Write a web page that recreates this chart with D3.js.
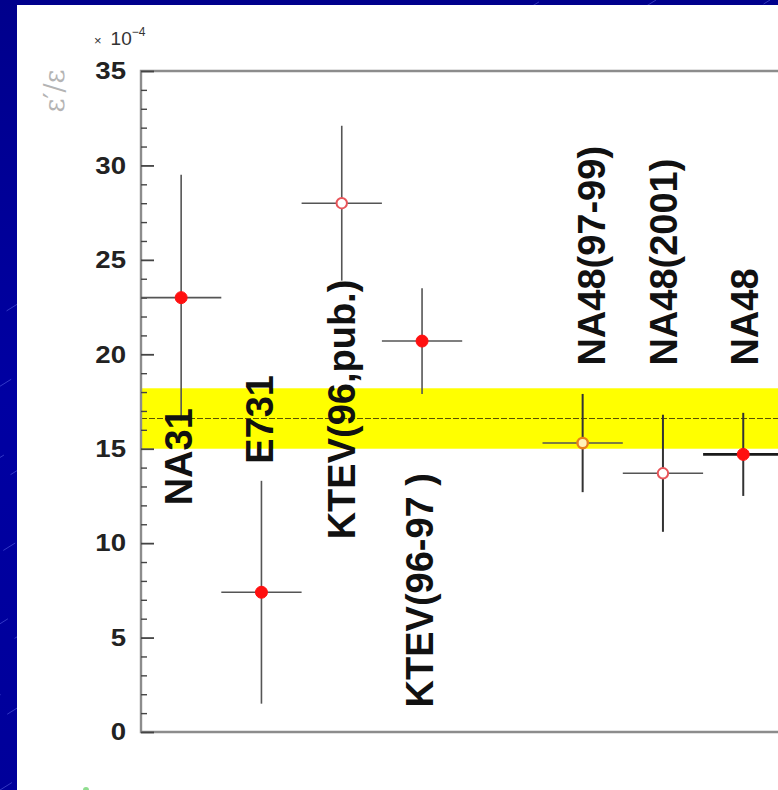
<!DOCTYPE html>
<html>
<head>
<meta charset="utf-8">
<script src="https://cdn.jsdelivr.net/npm/d3@7"></script>
<style>
  html, body { margin: 0; padding: 0; background: #00008e; overflow: hidden; }
  svg { display: block; }
</style>
</head>
<body>
<svg id="chart" width="778" height="790"></svg>
<script>
// Measurements of Re(eps'/eps), in units of 1e-4
const experiments  = ["NA31", "E731", "KTEV(96,pub.)", "KTEV(96-97 )", "NA48(97-99)", "NA48(2001)", "NA48"];
const positions    = [1, 2, 3, 4, 6, 7, 8];
const values       = [23.0, 7.4, 28.0, 20.7, 15.3, 13.7, 14.7];
const errors       = [6.5, 5.9, 4.1, 2.8, 2.6, 3.1, 2.2];
const markerKinds  = ["filled", "filled", "open", "filled", "halo", "open", "filled"];

// World average band
const worldAverage      = 16.6;
const worldAverageError = 1.6;

// Axis
const yTicks = [0, 5, 10, 15, 20, 25, 30, 35];
const yDomain = [0, 35];
const xDomain = [0.5, 8.5];

// Label anchors (category units, value units) for the rotated experiment names
const labelAnchorX = [1.135, 2.144, 3.165, 4.136, 6.278, 7.175, 8.184];
const labelAnchorY = [12.0, 14.2, 10.2, 1.3, 19.4, 19.4, 19.4];

const W = 778, H = 790;
const svg = d3.select("#chart");

// ---- slide background: blue with thin diagonal streaks ----
const defs = svg.append("defs");
const grad = defs.append("linearGradient").attr("id", "bg").attr("x1", 0).attr("y1", 0).attr("x2", 0).attr("y2", 1);
grad.append("stop").attr("offset", "0%").attr("stop-color", "#00008c");
grad.append("stop").attr("offset", "50%").attr("stop-color", "#0000a2");
grad.append("stop").attr("offset", "100%").attr("stop-color", "#00009a");
svg.append("rect").attr("width", W).attr("height", H).attr("fill", "url(#bg)");

const streaks = svg.append("g").attr("stroke", "#7f8cff").attr("stroke-opacity", 0.5).attr("stroke-width", 0.8);
for (let k = -20; k < 40; k++) {
  const x0 = k * 38;
  streaks.append("line")
    .attr("x1", x0).attr("y1", H)
    .attr("x2", x0 + H * 1.6).attr("y2", 0)
    .attr("stroke-dasharray", "14,60")
    .attr("stroke-dashoffset", (k * 23) % 74);
}

// ---- white panel ----
svg.append("rect").attr("x", 17).attr("y", 5).attr("width", W - 17).attr("height", H - 5).attr("fill", "#ffffff");

// small green mark at the panel's lower edge
svg.append("circle").attr("cx", 86).attr("cy", 790).attr("r", 3).attr("fill", "#5fcf5f").attr("opacity", 0.7);

// ---- scales ----
const plot = { left: 141, top: 71, bottom: 732 };
const x = d3.scaleLinear().domain(xDomain).range([plot.left, plot.left + 8 * 80.3]);
const y = d3.scaleLinear().domain(yDomain).range([plot.bottom, plot.top]);

const clip = defs.append("clipPath").attr("id", "plotclip");
clip.append("rect").attr("x", plot.left).attr("y", plot.top).attr("width", W - plot.left).attr("height", plot.bottom - plot.top);

const g = svg.append("g");

// ---- world average band ----
g.append("rect")
  .attr("x", plot.left)
  .attr("y", y(worldAverage + worldAverageError))
  .attr("width", W - plot.left)
  .attr("height", y(worldAverage - worldAverageError) - y(worldAverage + worldAverageError))
  .attr("fill", "#ffff00");
g.append("line")
  .attr("x1", plot.left).attr("x2", W)
  .attr("y1", y(worldAverage)).attr("y2", y(worldAverage))
  .attr("stroke", "#5a5000").attr("stroke-width", 1.1)
  .attr("stroke-dasharray", "6,2");

// ---- frame ----
g.append("path")
  .attr("d", `M${W + 5},${plot.top}H${plot.left}V${plot.bottom}H${W + 5}`)
  .attr("fill", "none").attr("stroke", "#8c8c8c").attr("stroke-width", 2.4);

// ---- y axis ticks (inward) ----
const yAxis = d3.axisLeft(y)
  .tickValues(d3.range(0, 36, 1))
  .tickSize(0)
  .tickFormat("");
const ax = g.append("g").attr("transform", `translate(${plot.left},0)`).call(yAxis);
ax.select(".domain").remove();
ax.selectAll(".tick line")
  .attr("x1", 0)
  .attr("x2", d => (d % 5 === 0 ? 13 : 6))
  .attr("stroke", "#444")
  .attr("stroke-width", d => (d % 5 === 0 ? 1.8 : 1.4));

const tickLabels = g.append("g");
tickLabels.selectAll("text")
  .data(yTicks)
  .join("text")
  .attr("transform", d => `translate(126,${y(d)}) scale(1.2,1)`)
  .attr("text-anchor", "end")
  .attr("dy", "0.36em")
  .attr("font-family", "Liberation Sans, Arial, sans-serif")
  .attr("font-weight", "bold")
  .attr("font-size", 23)
  .attr("fill", "#222")
  .text(d => d);

// exponent marker
const expo = g.append("text")
  .attr("x", 94).attr("y", 45)
  .attr("font-family", "Liberation Sans, Arial, sans-serif")
  .attr("fill", "#333");
expo.append("tspan").attr("font-size", 13).text("\u00d7");
expo.append("tspan").attr("font-size", 19).attr("dx", 9).text("10");
expo.append("tspan").attr("font-size", 12).attr("dy", -9).text("\u22124");

// y axis title
g.append("text")
  .attr("transform", "translate(64,91) rotate(-90)")
  .attr("text-anchor", "middle")
  .attr("font-family", "DejaVu Serif, serif")
  .attr("font-size", 27)
  .attr("fill", "#b4b4b4")
  .text("\u03b5\u2032/\u03b5");

// ---- measurements ----
const rows = experiments.map((name, i) => ({
  name, pos: positions[i], value: values[i], err: errors[i], kind: markerKinds[i],
  lx: labelAnchorX[i], ly: labelAnchorY[i]
}));

const marks = g.append("g").attr("clip-path", "url(#plotclip)");
const isLast = d => d.name === "NA48";

marks.selectAll(".hbar").data(rows).join("line")
  .attr("class", "hbar")
  .attr("x1", d => x(d.pos - 0.5)).attr("x2", d => x(d.pos + 0.5))
  .attr("y1", d => y(d.value)).attr("y2", d => y(d.value))
  .attr("stroke", d => (isLast(d) ? "#1a1a1a" : "#555"))
  .attr("stroke-width", d => (isLast(d) ? 2.6 : 1.6));

marks.selectAll(".vbar").data(rows).join("line")
  .attr("class", "vbar")
  .attr("x1", d => x(d.pos)).attr("x2", d => x(d.pos))
  .attr("y1", d => y(d.value + d.err)).attr("y2", d => y(d.value - d.err))
  .attr("stroke", d => (d.pos >= 6 ? "#333" : "#555"))
  .attr("stroke-width", d => (d.pos >= 6 ? 2 : 1.6));

const markerStyle = {
  filled: { fill: "#ff1010", stroke: "#ff1010", width: 1 },
  open:   { fill: "#ffffff", stroke: "#e8555a", width: 2 },
  halo:   { fill: "#fff3b8", stroke: "#e8801a", width: 2.4 }
};
marks.selectAll(".pt").data(rows).join("circle")
  .attr("class", "pt")
  .attr("cx", d => x(d.pos)).attr("cy", d => y(d.value))
  .attr("r", d => (d.kind === "filled" ? 6 : 5.2))
  .attr("fill", d => markerStyle[d.kind].fill)
  .attr("stroke", d => markerStyle[d.kind].stroke)
  .attr("stroke-width", d => markerStyle[d.kind].width);

// ---- experiment names ----
g.append("g").selectAll("text").data(rows).join("text")
  .attr("transform", d => `translate(${x(d.lx)},${y(d.ly)}) rotate(-90)`)
  .attr("text-anchor", "start")
  .attr("font-family", "Liberation Sans, Arial, sans-serif")
  .attr("font-weight", "bold")
  .attr("font-size", 38)
  .attr("fill", "#111")
  .text(d => d.name);
</script>
</body>
</html>
